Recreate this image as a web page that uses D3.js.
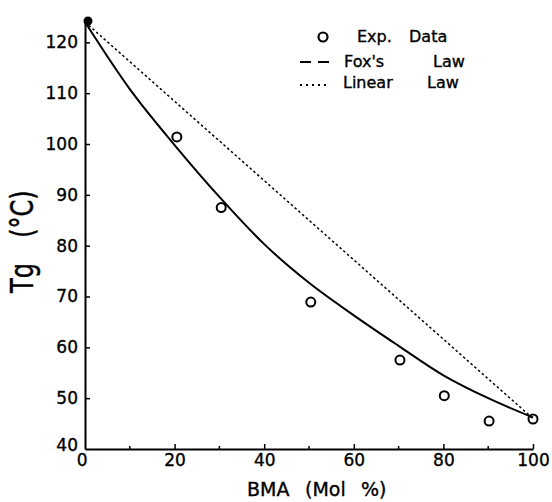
<!DOCTYPE html>
<html>
<head>
<meta charset="utf-8">
<script src="https://cdn.jsdelivr.net/npm/d3@7"></script>
<style>
  body { margin: 0; background: #ffffff; }
  text { stroke: #000; stroke-width: 0.35px; }
</style>
</head>
<body>
<div id="chart"></div>
<script>
let width = 552;
let height = 502;

// experimental Tg values
let expBMA = [20.5, 30.4, 50.4, 70.3, 80.2, 90.2, 100];
let expTg = [101.4, 87.5, 68.9, 57.5, 50.5, 45.5, 45.9];
// homopolymer end point (filled marker)
let endBMA = [0];
let endTg = [124];
// Fox's law curve
let foxBMA = [0, 10, 20, 30, 40, 50, 60, 70, 80, 90, 100];
let foxTg = [124, 110.8, 99.8, 89.6, 80.3, 72.7, 66.3, 60.3, 54.5, 50.0, 46.2];
// linear law
let linBMA = [0, 100];
let linTg = [124, 46];

let xTicks = [0, 20, 40, 60, 80, 100];
let xMinor = [10, 30, 50, 70, 90];
let yTicks = [40, 50, 60, 70, 80, 90, 100, 110, 120];

let font = "'DejaVu Sans', Verdana, sans-serif";

let svg = d3.select("#chart")
  .append("svg")
  .attr("width", width)
  .attr("height", height)
  .style("background-color", "#ffffff");

let x = d3.scaleLinear().domain([0, 100]).range([85, 533]);
let y = d3.scaleLinear().domain([40, 124]).range([449, 22]);

// x axis
let xAxis = svg.append("g")
  .attr("transform", `translate(0, ${y(40)})`)
  .call(d3.axisBottom(x).tickValues(xTicks).tickSize(-5).tickPadding(5).tickSizeOuter(0));
xAxis.select(".domain").attr("stroke-width", 2);
xAxis.selectAll(".tick line").attr("stroke-width", 1.5);
xAxis.selectAll("text")
  .attr("font-family", font)
  .attr("font-size", 17)
  .attr("fill", "#000");
xAxis.selectAll(".tick").filter(d => d == 0).select("line").remove();
xAxis.selectAll(".tick").filter(d => d == 0).select("text").attr("dx", "-0.2em");

svg.append("g")
  .selectAll("line")
  .data(xMinor)
  .enter()
  .append("line")
  .attr("x1", d => x(d))
  .attr("x2", d => x(d))
  .attr("y1", y(40))
  .attr("y2", y(40) - 3)
  .attr("stroke", "#000")
  .attr("stroke-width", 1.5);

// y axis
let yAxis = svg.append("g")
  .attr("transform", `translate(${x(0)}, 0)`)
  .call(d3.axisLeft(y).tickValues(yTicks).tickSize(-5).tickPadding(7).tickSizeOuter(0));
yAxis.select(".domain").attr("stroke-width", 2);
yAxis.selectAll(".tick line").attr("stroke-width", 1.5);
yAxis.selectAll("text")
  .attr("font-family", font)
  .attr("font-size", 17)
  .attr("fill", "#000");
yAxis.selectAll(".tick").filter(d => d == 40).select("line").remove();
yAxis.selectAll(".tick").filter(d => d == 40).select("text").attr("dy", "0.1em");

// axis titles
let xTitle = svg.append("text")
  .attr("y", 496)
  .attr("font-family", font)
  .attr("font-size", 19);
xTitle.append("tspan").attr("x", 247).text("BMA");
xTitle.append("tspan").attr("x", 305).text("(Mol");
xTitle.append("tspan").attr("x", 361).text("%)");

svg.append("text")
  .attr("transform", `translate(33, 278) rotate(-90) scale(1, 1.3)`)
  .attr("text-anchor", "middle")
  .attr("font-family", font)
  .attr("font-size", 24)
  .text("Tg");
svg.append("text")
  .attr("transform", `translate(33, 214) rotate(-90) scale(1, 1.3)`)
  .attr("text-anchor", "middle")
  .attr("font-family", font)
  .attr("font-size", 24)
  .text("(°C)");

// linear law (dotted)
let line = d3.line().x(d => x(d[0])).y(d => y(d[1]));
svg.append("path")
  .attr("d", line(d3.zip(linBMA, linTg)))
  .attr("fill", "none")
  .attr("stroke", "#000")
  .attr("stroke-width", 1.5)
  .attr("stroke-dasharray", "2.5,2.5");

// Fox's law
svg.append("path")
  .attr("d", line.curve(d3.curveMonotoneX)(d3.zip(foxBMA, foxTg)))
  .attr("fill", "none")
  .attr("stroke", "#000")
  .attr("stroke-width", 2);

// experimental points
svg.append("g")
  .selectAll("circle")
  .data(d3.zip(expBMA, expTg))
  .enter()
  .append("circle")
  .attr("cx", d => x(d[0]))
  .attr("cy", d => y(d[1]))
  .attr("r", 4.5)
  .attr("fill", "none")
  .attr("stroke", "#000")
  .attr("stroke-width", 2);

svg.append("g")
  .selectAll("circle")
  .data(d3.zip(endBMA, endTg))
  .enter()
  .append("circle")
  .attr("cx", d => x(d[0]) + 3)
  .attr("cy", d => y(d[1]) - 1)
  .attr("r", 4.5)
  .attr("fill", "#000");

// legend
let legend = svg.append("g");
legend.append("circle")
  .attr("cx", 323).attr("cy", 37).attr("r", 4.5)
  .attr("fill", "none").attr("stroke", "#000").attr("stroke-width", 2.2);
legend.append("line")
  .attr("x1", 300).attr("x2", 329).attr("y1", 62).attr("y2", 62)
  .attr("stroke", "#000").attr("stroke-width", 1.8).attr("stroke-dasharray", "11,7");
legend.append("line")
  .attr("x1", 300).attr("x2", 328).attr("y1", 85).attr("y2", 85)
  .attr("stroke", "#000").attr("stroke-width", 2).attr("stroke-dasharray", "2,4");

let legendText = [
  ["Exp.", 357, 42], ["Data", 409, 42],
  ["Fox's", 344, 67], ["Law", 433, 67],
  ["Linear", 343, 88], ["Law", 427, 88]
];
legend.selectAll("text")
  .data(legendText)
  .enter()
  .append("text")
  .attr("x", d => d[1])
  .attr("y", d => d[2])
  .attr("font-family", font)
  .attr("font-size", 16)
  .text(d => d[0]);
</script>
</body>
</html>
